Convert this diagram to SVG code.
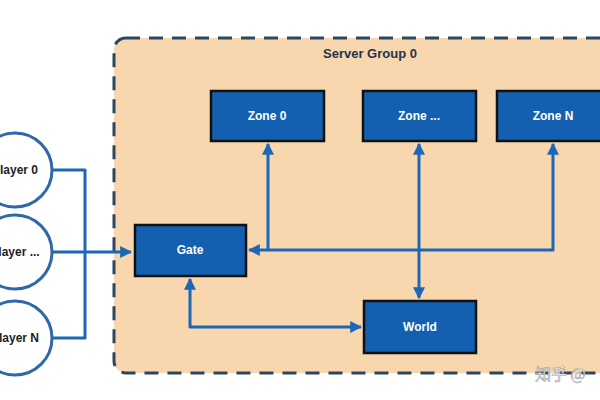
<svg xmlns="http://www.w3.org/2000/svg" width="600" height="400" viewBox="0 0 600 400">
<defs>
<marker id="ah" viewBox="0 0 10 10" refX="9" refY="5" markerWidth="4" markerHeight="4" orient="auto-start-reverse" markerUnits="strokeWidth">
<path d="M0,0 L10,5 L0,10 z" fill="#1c67b6"/>
</marker>
<style>
.box{fill:#1360b0;stroke:#111;stroke-width:2.5}
.boxo{fill:none;stroke:#8a6a4a;stroke-width:1}
.bt{fill:#fff;font-family:"Liberation Sans",Arial,sans-serif;font-weight:bold;font-size:12px;text-anchor:middle;dominant-baseline:central}
.pl{fill:#fff;stroke:#2f68a8;stroke-width:3}
.pt{fill:#222;font-family:"Liberation Sans",Arial,sans-serif;font-weight:bold;font-size:12px;text-anchor:middle;dominant-baseline:central}
.c{fill:none;stroke:#1c67b6;stroke-width:3;stroke-linejoin:round}
</style>
</defs>
<rect width="600" height="400" fill="#fff"/>
<g id="group">
<rect x="114" y="38" width="510" height="335" rx="12" fill="#f8d6ae" stroke="#2b4663" stroke-width="3" stroke-dasharray="14 9"/>
<text x="370" y="53" font-family="Liberation Sans,Arial,sans-serif" font-weight="bold" font-size="13" fill="#1e3550" text-anchor="middle" dominant-baseline="central">Server Group 0</text>
</g>
<g id="connectors">
<path class="c" d="M52,170 H85 V338 H52"/>
<path class="c" d="M52,252 H131" marker-end="url(#ah)"/>
<path class="c" d="M268,250 V144" marker-end="url(#ah)"/>
<path class="c" d="M553,144 V250 H249" marker-start="url(#ah)" marker-end="url(#ah)"/>
<path class="c" d="M419,144 V298" marker-start="url(#ah)" marker-end="url(#ah)"/>
<path class="c" d="M190,279 V327 H361" marker-start="url(#ah)" marker-end="url(#ah)"/>
</g>
<g id="player0"><circle class="pl" cx="15" cy="170" r="37"/><text class="pt" x="15" y="170">Player 0</text></g>
<g id="player1"><circle class="pl" cx="15" cy="252" r="37"/><text class="pt" x="15" y="252">Player ...</text></g>
<g id="playerN"><circle class="pl" cx="15" cy="338" r="37"/><text class="pt" x="15" y="338">Player N</text></g>
<g id="gate"><rect class="box" x="135" y="225" width="111" height="51"/><text class="bt" x="190" y="250">Gate</text></g>
<g id="world"><rect class="box" x="364" y="301" width="112" height="52"/><text class="bt" x="420" y="327">World</text></g>
<g id="zone0"><rect class="box" x="211" y="91" width="113" height="50"/><text class="bt" x="267" y="116">Zone 0</text></g>
<g id="zone1"><rect class="box" x="363" y="91" width="113" height="50"/><text class="bt" x="419" y="116">Zone ...</text></g>
<g id="zoneN"><rect class="box" x="497" y="91" width="112" height="50"/><text class="bt" x="553" y="116">Zone N</text></g>
<text x="535" y="373" font-family="Noto Sans CJK SC,sans-serif" font-size="16" fill="#fff" stroke="#999" stroke-width="0.6" dominant-baseline="central">知乎 @</text>
</svg>
